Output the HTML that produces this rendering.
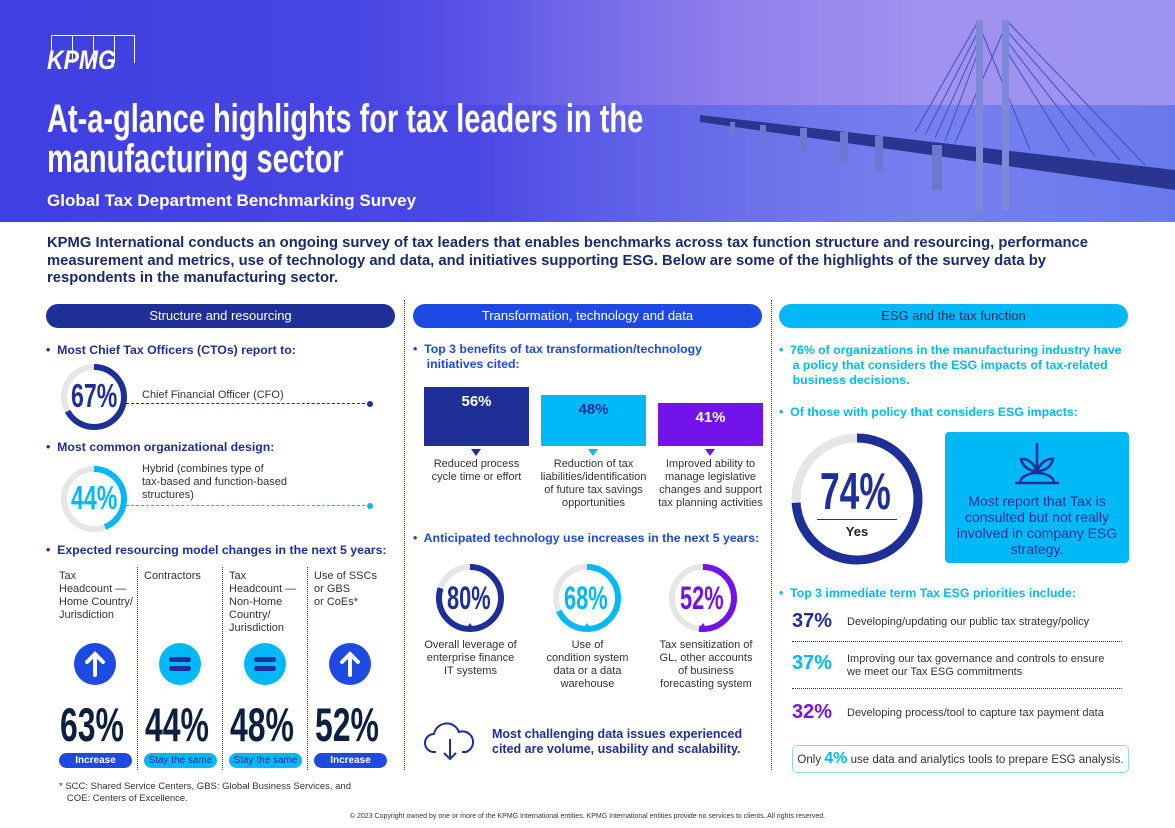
<!DOCTYPE html>
<html><head><meta charset="utf-8">
<style>
*{margin:0;padding:0;box-sizing:border-box}
body{width:1175px;height:828px;position:relative;overflow:hidden;background:#fff;font-family:"Liberation Sans",Arial,sans-serif;color:#1b2a5e}
.a{position:absolute}
.cond{transform-origin:left top;transform:scaleX(.72);white-space:nowrap;font-weight:bold}
.pill{position:absolute;top:304px;height:24px;border-radius:12px;font-size:13px;text-align:center;line-height:24px}
.bul{font-weight:bold;font-size:12.3px;position:absolute;white-space:nowrap}
.sm{font-size:11px;color:#333;line-height:13px}
.vl{position:absolute;border-left:1.5px dotted #1e2f97}
</style></head><body>
<!-- header -->
<div class="a" style="left:0;top:0;width:1175px;height:222px;background:linear-gradient(90deg,#3f3fe2 0%,#4a48e4 40%,#6b6ae8 60%,#8a8cf0 80%,#7f8af0 100%)"></div>
<div class="a" style="left:0;top:0;width:1175px;height:105px;background:linear-gradient(90deg,rgba(0,0,0,0) 30%,rgba(190,150,240,.45) 65%,rgba(200,160,240,.4) 100%)"></div>
<div class="a" style="left:500px;top:105px;width:675px;height:117px;background:linear-gradient(90deg,rgba(80,90,230,0),rgba(90,110,235,.6))"></div>
<svg class="a" style="left:700px;top:0" width="475" height="222">
<g stroke="#3d4fc4" stroke-width="1" fill="none">
<line x1="279" y1="20" x2="215" y2="132"/><line x1="279" y1="30" x2="225" y2="135"/><line x1="279" y1="40" x2="235" y2="138"/><line x1="279" y1="50" x2="245" y2="141"/>
<line x1="306" y1="20" x2="445" y2="165"/><line x1="306" y1="30" x2="420" y2="160"/><line x1="306" y1="40" x2="395" y2="156"/><line x1="306" y1="50" x2="370" y2="152"/>
<line x1="279" y1="25" x2="330" y2="150"/><line x1="306" y1="25" x2="255" y2="143"/>
</g>
<polygon points="0,115 475,170 475,190 0,122" fill="#2a3590"/>
<rect x="276" y="20" width="7" height="190" fill="#7e8ad8"/><rect x="302" y="20" width="7" height="190" fill="#7e8ad8"/>
<g fill="#6c78d0"><rect x="100" y="128" width="7" height="25"/><rect x="140" y="132" width="8" height="30"/><rect x="175" y="136" width="8" height="35"/><rect x="232" y="145" width="10" height="45"/><rect x="60" y="125" width="6" height="20"/><rect x="30" y="122" width="5" height="15"/></g>
</svg>
<div class="a" style="left:47px;top:35px;width:88px;height:30px">
<div class="a" style="left:4px;top:0;width:84px;height:28px;border:1px solid #fff;border-bottom:none;background:repeating-linear-gradient(90deg,transparent 0 20px,#fff 20px 21px)"></div>
<div class="a cond" style="left:0;top:10px;font-size:27px;color:#fff;font-style:italic;transform:scaleX(.85)">KPMG</div></div>
<div class="a cond" style="left:47px;top:99px;font-size:40px;line-height:40px;color:#fff;transform:scaleX(.725)">At-a-glance highlights for tax leaders in the<br>manufacturing sector</div>
<div class="a" style="left:47px;top:191px;font-size:17px;font-weight:bold;color:#fff">Global Tax Department Benchmarking Survey</div>
<!-- intro -->
<div class="a" style="left:47px;top:235px;width:1062px;font-size:14.8px;font-weight:bold;line-height:17.5px;color:#1a2a6c">KPMG International conducts an ongoing survey of tax leaders that enables benchmarks across tax function structure and resourcing, performance measurement and metrics, use of technology and data, and initiatives supporting ESG. Below are some of the highlights of the survey data by respondents in the manufacturing sector.</div>
<div class="pill" style="left:46px;width:349px;background:#1e2f97;color:#fff">Structure and resourcing</div>
<div class="pill" style="left:413px;width:349px;background:#1e49e2;color:#fff">Transformation, technology and data</div>
<div class="pill" style="left:779px;width:349px;background:#00b8f5;color:#1b2a5e">ESG and the tax function</div>
<div class="vl" style="left:404px;top:300px;height:470px"></div>
<div class="vl" style="left:771px;top:300px;height:470px"></div>
<!-- left column -->
<div class="bul" style="left:46px;top:343px;color:#1e2f97">•&nbsp; Most Chief Tax Officers (CTOs) report to:</div>
<svg class="a" style="left:58px;top:361px" width="72" height="72"><circle cx="36" cy="36" r="30" fill="none" stroke="#e6e6e6" stroke-width="6"/><circle cx="36" cy="36" r="30" fill="none" stroke="#1e2f97" stroke-width="6" stroke-dasharray="126.3 188.5" transform="rotate(-90 36 36)"/></svg>
<div class="a cond" style="left:71px;top:377px;font-size:33px;color:#1e2f97;transform:scaleX(.7)">67%</div>
<div class="a sm" style="left:142px;top:389px">Chief Financial Officer (CFO)</div>
<div class="a" style="left:126px;top:403px;width:244px;border-top:1.5px dashed #1e2f97"></div><div class="a" style="left:367px;top:401px;width:6px;height:6px;border-radius:3px;background:#1e2f97"></div>
<div class="bul" style="left:46px;top:440px;color:#1e2f97">•&nbsp; Most common organizational design:</div>
<svg class="a" style="left:58px;top:463px" width="72" height="72"><circle cx="36" cy="36" r="30" fill="none" stroke="#e6e6e6" stroke-width="6"/><circle cx="36" cy="36" r="30" fill="none" stroke="#00b8f5" stroke-width="6" stroke-dasharray="82.9 188.5" transform="rotate(-90 36 36)"/></svg>
<div class="a cond" style="left:71px;top:479px;font-size:33px;color:#00b8f5;transform:scaleX(.7)">44%</div>
<div class="a sm" style="left:142px;top:463px">Hybrid (combines type of<br>tax-based and function-based<br>structures)</div>
<div class="a" style="left:126px;top:505px;width:244px;border-top:1.5px dashed #00b8f5"></div><div class="a" style="left:367px;top:503px;width:6px;height:6px;border-radius:3px;background:#00b8f5"></div>
<div class="bul" style="left:46px;top:543px;color:#1e2f97">•&nbsp; Expected resourcing model changes in the next 5 years:</div>
<div class="a sm" style="left:59px;top:570px">Tax<br>Headcount —<br>Home Country/<br>Jurisdiction</div>
<div class="a sm" style="left:144px;top:570px">Contractors</div>
<div class="a sm" style="left:229px;top:570px">Tax<br>Headcount —<br>Non-Home<br>Country/<br>Jurisdiction</div>
<div class="a sm" style="left:314px;top:570px">Use of SSCs<br>or GBS<br>or CoEs*</div>
<div class="vl" style="left:137px;top:567px;height:203px"></div><div class="vl" style="left:222px;top:567px;height:203px"></div><div class="vl" style="left:307px;top:567px;height:203px"></div>
<svg class="a" style="left:74px;top:643px" width="42" height="42"><circle cx="21" cy="21" r="21" fill="#1e49e2"/><path d="M21 32V11M13 19l8-8 8 8" stroke="#fff" stroke-width="4" fill="none" stroke-linecap="round"/></svg>
<svg class="a" style="left:159px;top:643px" width="42" height="42"><circle cx="21" cy="21" r="21" fill="#00b8f5"/><rect x="10" y="14" width="22" height="5" rx="2.5" fill="#1e2f97"/><rect x="10" y="23" width="22" height="5" rx="2.5" fill="#1e2f97"/></svg>
<svg class="a" style="left:244px;top:643px" width="42" height="42"><circle cx="21" cy="21" r="21" fill="#00b8f5"/><rect x="10" y="14" width="22" height="5" rx="2.5" fill="#1e2f97"/><rect x="10" y="23" width="22" height="5" rx="2.5" fill="#1e2f97"/></svg>
<svg class="a" style="left:329px;top:643px" width="42" height="42"><circle cx="21" cy="21" r="21" fill="#1e49e2"/><path d="M21 32V11M13 19l8-8 8 8" stroke="#fff" stroke-width="4" fill="none" stroke-linecap="round"/></svg>
<div class="a cond" style="left:60px;top:697px;font-size:47px;color:#0c1f3f;transform:scaleX(.68)">63%</div>
<div class="a cond" style="left:145px;top:697px;font-size:47px;color:#0c1f3f;transform:scaleX(.68)">44%</div>
<div class="a cond" style="left:230px;top:697px;font-size:47px;color:#0c1f3f;transform:scaleX(.68)">48%</div>
<div class="a cond" style="left:315px;top:697px;font-size:47px;color:#0c1f3f;transform:scaleX(.68)">52%</div>
<div class="a" style="left:59px;top:753px;width:73px;height:15px;border-radius:8px;background:#1e49e2;color:#fff;font-size:10px;text-align:center;line-height:15px;font-weight:bold">Increase</div>
<div class="a" style="left:144px;top:753px;width:73px;height:15px;border-radius:8px;background:#00b8f5;color:#1e2f97;font-size:10px;text-align:center;line-height:15px">Stay the same</div>
<div class="a" style="left:229px;top:753px;width:73px;height:15px;border-radius:8px;background:#00b8f5;color:#1e2f97;font-size:10px;text-align:center;line-height:15px">Stay the same</div>
<div class="a" style="left:314px;top:753px;width:73px;height:15px;border-radius:8px;background:#1e49e2;color:#fff;font-size:10px;text-align:center;line-height:15px;font-weight:bold">Increase</div>
<div class="a" style="left:59px;top:781px;font-size:9.5px;color:#333;line-height:12px">* SCC: Shared Service Centers, GBS: Global Business Services, and<br>&nbsp;&nbsp; COE: Centers of Excellence.</div>
<!-- middle -->
<div class="bul" style="left:413px;top:342px;color:#1e49e2;line-height:15px">•&nbsp; Top 3 benefits of tax transformation/technology<br>&nbsp;&nbsp;&nbsp; initiatives cited:</div>
<div class="a" style="left:424px;top:387px;width:105px;height:59px;background:#1e2f97;color:#fff;font-weight:bold;font-size:15px;text-align:center;padding-top:6px">56%</div>
<div class="a" style="left:541px;top:395px;width:105px;height:51px;background:#00b8f5;color:#1e2f97;font-weight:bold;font-size:15px;text-align:center;padding-top:6px">48%</div>
<div class="a" style="left:658px;top:403px;width:105px;height:43px;background:#7213ea;color:#fff;font-weight:bold;font-size:15px;text-align:center;padding-top:6px">41%</div>
<div class="a" style="left:471px;top:449px;border:5px solid transparent;border-top:7px solid #1e2f97"></div>
<div class="a" style="left:588px;top:449px;border:5px solid transparent;border-top:7px solid #00b8f5"></div>
<div class="a" style="left:705px;top:449px;border:5px solid transparent;border-top:7px solid #7213ea"></div>
<div class="a sm" style="left:420px;top:458px;width:113px;text-align:center">Reduced process<br>cycle time or effort</div>
<div class="a sm" style="left:537px;top:458px;width:113px;text-align:center">Reduction of tax<br>liabilities/identification<br>of future tax savings<br>opportunities</div>
<div class="a sm" style="left:654px;top:458px;width:113px;text-align:center">Improved ability to<br>manage legislative<br>changes and support<br>tax planning activities</div>
<div class="bul" style="left:413px;top:531px;color:#1e49e2">•&nbsp; Anticipated technology use increases in the next 5 years:</div>
<svg class="a" style="left:435px;top:563px" width="70" height="70"><circle cx="35" cy="35" r="31" fill="none" stroke="#e6e6e6" stroke-width="6"/><circle cx="35" cy="35" r="31" fill="none" stroke="#1e2f97" stroke-width="6" stroke-dasharray="155.8 194.8" transform="rotate(-90 35 35)"/><path d="M31 66l4-6 4 6z" fill="#1e2f97"/></svg>
<svg class="a" style="left:552px;top:563px" width="70" height="70"><circle cx="35" cy="35" r="31" fill="none" stroke="#e6e6e6" stroke-width="6"/><circle cx="35" cy="35" r="31" fill="none" stroke="#00b8f5" stroke-width="6" stroke-dasharray="132.5 194.8" transform="rotate(-90 35 35)"/><path d="M31 66l4-6 4 6z" fill="#00b8f5"/></svg>
<svg class="a" style="left:668px;top:563px" width="70" height="70"><circle cx="35" cy="35" r="31" fill="none" stroke="#e6e6e6" stroke-width="6"/><circle cx="35" cy="35" r="31" fill="none" stroke="#7213ea" stroke-width="6" stroke-dasharray="101.3 194.8" transform="rotate(-90 35 35)"/><path d="M31 66l4-6 4 6z" fill="#7213ea"/></svg>
<div class="a cond" style="left:447px;top:580px;font-size:32px;color:#1e2f97;transform:scaleX(.68)">80%</div>
<div class="a cond" style="left:564px;top:580px;font-size:32px;color:#00b8f5;transform:scaleX(.68)">68%</div>
<div class="a cond" style="left:680px;top:580px;font-size:32px;color:#7213ea;transform:scaleX(.68)">52%</div>
<div class="a sm" style="left:413px;top:639px;width:115px;text-align:center">Overall leverage of<br>enterprise finance<br>IT systems</div>
<div class="a sm" style="left:530px;top:639px;width:115px;text-align:center">Use of<br>condition system<br>data or a data<br>warehouse</div>
<div class="a sm" style="left:646px;top:639px;width:120px;text-align:center">Tax sensitization of<br>GL, other accounts<br>of business<br>forecasting system</div>
<svg class="a" style="left:424px;top:722px" width="52" height="40"><path d="M12 30h-2a9 9 0 0 1 0-18 13 13 0 0 1 25-2 10 10 0 0 1 7 20h-4" fill="none" stroke="#1e2f97" stroke-width="2"/><path d="M26 17v20M20 31l6 6 6-6" fill="none" stroke="#1e2f97" stroke-width="2"/></svg>
<div class="a" style="left:492px;top:727px;font-size:12.5px;font-weight:bold;color:#1e2f97;line-height:15px">Most challenging data issues experienced<br>cited are volume, usability and scalability.</div>
<!-- right -->
<div class="bul" style="left:779px;top:343px;color:#00b8f5;line-height:15px">•&nbsp; 76% of organizations in the manufacturing industry have<br>&nbsp;&nbsp;&nbsp; a policy that considers the ESG impacts of tax-related<br>&nbsp;&nbsp;&nbsp; business decisions.</div>
<div class="bul" style="left:779px;top:405px;color:#00b8f5">•&nbsp; Of those with policy that considers ESG impacts:</div>
<svg class="a" style="left:790px;top:432px" width="134" height="134"><circle cx="67" cy="67" r="61" fill="none" stroke="#e6e6e6" stroke-width="9"/><circle cx="67" cy="67" r="61" fill="none" stroke="#1e2f97" stroke-width="9" stroke-dasharray="283.6 383.3" transform="rotate(-90 67 67)"/></svg>
<div class="a cond" style="left:820px;top:462px;font-size:52px;color:#1e2f97;transform:scaleX(.68)">74%</div>
<div class="a" style="left:817px;top:519px;width:80px;border-top:1.5px solid #1e2f97"></div>
<div class="a" style="left:817px;top:524px;width:80px;text-align:center;font-size:13px;font-weight:bold;color:#222">Yes</div>
<div class="a" style="left:945px;top:432px;width:184px;height:131px;background:#00b8f5;border-radius:4px"></div>
<svg class="a" style="left:1010px;top:441px" width="54" height="44"><path d="M27 2v30M27 30c-6-14-16-12-16-12s2 12 16 12M27 30c6-14 16-12 16-12s-2 12-16 12M5 42h44M10 42c0-6 8-10 17-10s17 4 17 10" fill="none" stroke="#1e2f97" stroke-width="2.5"/></svg>
<div class="a" style="left:950px;top:493px;width:174px;text-align:center;font-size:14px;line-height:16px;color:#1e2f97">Most report that Tax is consulted but not really involved in company ESG strategy.</div>
<div class="bul" style="left:779px;top:586px;color:#00b8f5">•&nbsp; Top 3 immediate term Tax ESG priorities include:</div>
<div class="a" style="left:792px;top:610px;font-size:20px;font-weight:bold;color:#1e2f97">37%</div>
<div class="a sm" style="left:847px;top:616px">Developing/updating our public tax strategy/policy</div>
<div class="a" style="left:792px;top:641px;width:330px;border-top:1.5px dotted #333"></div>
<div class="a" style="left:792px;top:652px;font-size:20px;font-weight:bold;color:#00b8f5">37%</div>
<div class="a sm" style="left:847px;top:653px">Improving our tax governance and controls to ensure<br>we meet our Tax ESG commitments</div>
<div class="a" style="left:792px;top:688px;width:330px;border-top:1.5px dotted #333"></div>
<div class="a" style="left:792px;top:701px;font-size:20px;font-weight:bold;color:#7213ea">32%</div>
<div class="a sm" style="left:847px;top:707px">Developing process/tool to capture tax payment data</div>
<div class="a" style="left:792px;top:745px;width:337px;height:28px;border:1.5px solid #8fd9f5;border-radius:5px;text-align:center;font-size:11.5px;line-height:26px;color:#333">Only <b style="color:#00b8f5;font-size:16px">4%</b> use data and analytics tools to prepare ESG analysis.</div>
<div class="a" style="left:0;top:813px;width:1175px;text-align:center;font-size:7px;color:#333">© 2023 Copyright owned by one or more of the KPMG International entities. KPMG International entities provide no services to clients. All rights reserved.</div>
</body></html>
